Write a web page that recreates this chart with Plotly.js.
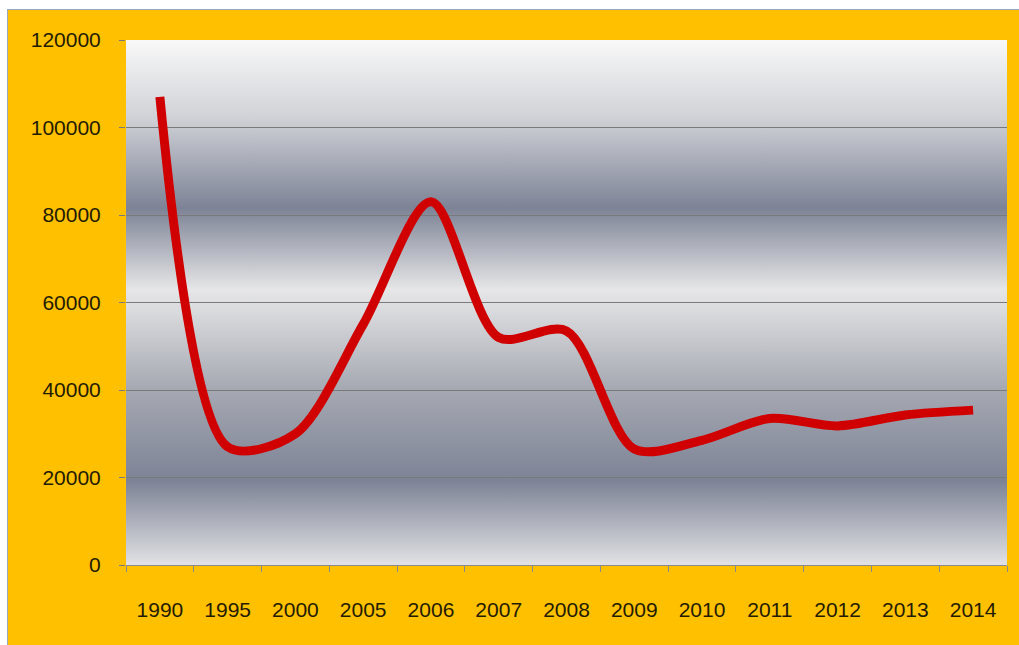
<!DOCTYPE html>
<html>
<head>
<meta charset="utf-8">
<script src="https://cdn.plot.ly/plotly-3.0.1.min.js"></script>
<style>
  html, body { margin: 0; padding: 0; background: #ffffff; overflow: hidden; }
  #frameTop { position: absolute; left: 7px; top: 9px; width: 1012px; height: 1px; background: #9aa9c2; }
  #frameLeft { position: absolute; left: 7px; top: 9px; width: 1px; height: 636px; background: #9aa9c2; }
  #chart { position: absolute; left: 8px; top: 10px; width: 1011px; height: 635px; }
</style>
</head>
<body>
<div id="frameTop"></div>
<div id="frameLeft"></div>
<div id="chart"></div>
<script>
// Annual values per reporting year
const years = ['1990', '1995', '2000', '2005', '2006', '2007', '2008', '2009', '2010', '2011', '2012', '2013', '2014'];
const values = [107000, 27000, 30000, 55000, 83000, 52000, 53500, 26500, 28500, 33500, 31800, 34300, 35400];
const yTickValues = [0, 20000, 40000, 60000, 80000, 100000, 120000];
const yTickLabels = ['0', '20000', '40000', '60000', '80000', '100000', '120000'];

// Banded "metal" fill behind the plot area, stretched to its box
const bandSvg =
  '<svg xmlns="http://www.w3.org/2000/svg" width="100" height="1000" preserveAspectRatio="none">' +
  '<defs><linearGradient id="g" x1="0" y1="0" x2="0" y2="1">' +
  '<stop offset="0" stop-color="#f9f9f9"/>' +
  '<stop offset="0.15" stop-color="#cfd1d6"/>' +
  '<stop offset="0.32" stop-color="#7d8396"/>' +
  '<stop offset="0.475" stop-color="#e6e6e7"/>' +
  '<stop offset="0.52" stop-color="#d8d9dc"/>' +
  '<stop offset="0.66" stop-color="#a7aab3"/>' +
  '<stop offset="0.84" stop-color="#7d8396"/>' +
  '<stop offset="1" stop-color="#e2e2e5"/>' +
  '</linearGradient></defs>' +
  '<rect x="0" y="0" width="100" height="1000" fill="url(#g)"/></svg>';

const textColor = '#241c00';
const fontFamily = '"Liberation Sans", Arial, sans-serif';

const trace = {
  type: 'scatter',
  mode: 'lines',
  x: years,
  y: values,
  line: { color: '#d00000', width: 9, shape: 'spline', smoothing: 0.85 },
  hoverinfo: 'skip'
};

const layout = {
  width: 1011,
  height: 635,
  margin: { l: 118, r: 12, t: 30, b: 80 },
  paper_bgcolor: '#ffc000',
  plot_bgcolor: 'rgba(0,0,0,0)',
  showlegend: false,
  hovermode: false,
  font: { family: fontFamily, size: 21, color: textColor },
  images: [{
    source: 'data:image/svg+xml;charset=utf-8,' + encodeURIComponent(bandSvg),
    xref: 'paper', yref: 'paper',
    x: 0, y: 1, sizex: 1, sizey: 1,
    xanchor: 'left', yanchor: 'top',
    sizing: 'stretch',
    layer: 'below'
  }],
  xaxis: {
    type: 'category',
    range: [-0.5, years.length - 0.5],
    showgrid: false,
    showline: true,
    linecolor: '#8a8a8a',
    linewidth: 1,
    ticks: 'outside',
    tickson: 'boundaries',
    ticklen: 6,
    tickcolor: '#8a8a8a',
    ticklabelstandoff: 26,
    tickfont: { family: fontFamily, size: 21, color: textColor },
    zeroline: false,
    fixedrange: true
  },
  yaxis: {
    range: [0, 120000],
    tickvals: yTickValues,
    ticktext: yTickLabels,
    showgrid: true,
    gridcolor: '#7a7a7a',
    gridwidth: 1,
    showline: false,
    zeroline: false,
    ticks: 'outside',
    ticklen: 6,
    tickcolor: '#7a7a7a',
    ticklabelstandoff: 14,
    tickfont: { family: fontFamily, size: 21, color: textColor },
    fixedrange: true
  }
};

Plotly.newPlot('chart', [trace], layout, { displayModeBar: false, staticPlot: true });
</script>
</body>
</html>
